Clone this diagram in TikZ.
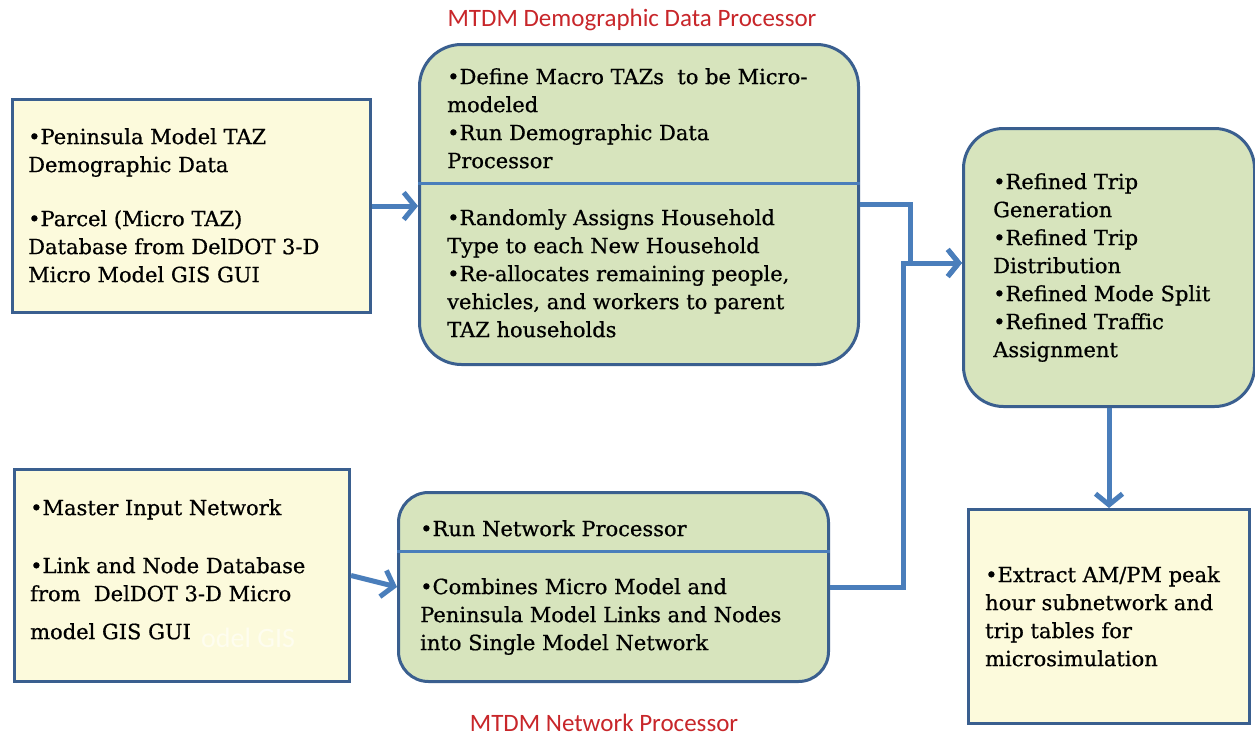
\documentclass[tikz,border=0pt]{standalone}
\usepackage{fontspec}
\setmainfont[FakeBold=0.7]{DejaVu Serif}
\newfontfamily\labfont{Carlito}
\usetikzlibrary{arrows.meta}
\definecolor{cream}{HTML}{FCFADC}
\definecolor{sage}{HTML}{D7E4BD}
\definecolor{edge}{HTML}{3A5F8F}
\definecolor{flow}{HTML}{4A7EBB}
\definecolor{labred}{HTML}{C8262A}
\begin{document}
\begin{tikzpicture}[x=1pt,y=-1pt,
  inbox/.style={draw=edge,line width=3pt,fill=cream,inner sep=0pt,anchor=north west},
  procbox/.style={draw=edge,line width=3pt,fill=sage,inner sep=0pt,anchor=north west},
  txt/.style={anchor=north west,align=left,inner sep=0pt,font=\fontsize{21}{28}\selectfont},
  flowline/.style={draw=flow,line width=5pt},
  arr/.style={flowline,-{Straight Barb[length=11pt,width=27pt]}},
  lab/.style={text=labred,font=\labfont\fontsize{25}{28}\selectfont}]
\useasboundingbox[fill=white] (0,0) rectangle (1255,736);

% boxes
\node[inbox,minimum width=358pt,minimum height=213pt] (A) at (11,98) {};
\node[procbox,rounded corners=42pt,minimum width=439pt,minimum height=320pt] (B) at (418,43) {};
\node[procbox,rounded corners=40pt,minimum width=291pt,minimum height=278pt] (C) at (962,127) {};
\node[inbox,minimum width=281pt,minimum height=214pt] (D) at (967,508) {};
\node[inbox,minimum width=335pt,minimum height=212pt] (E) at (13,468) {};
\node[procbox,rounded corners=30pt,minimum width=430pt,minimum height=189pt] (F) at (397,491) {};

% dividers
\draw[draw=flow,line width=3pt] (B.west |- 0,183) -- (B.east |- 0,183);
\draw[draw=flow,line width=3pt] (F.west |- 0,551) -- (F.east |- 0,551);

% texts
\node[txt] (tA) at (28,128) {•Peninsula Model TAZ\\Demographic Data\\[26pt]•Parcel (Micro TAZ)\\Database from DelDOT 3-D\\Micro Model GIS GUI};
\node[txt] (tB1) at (447,68) {•Define Macro TAZs\ \ to be Micro-\\modeled\\•Run Demographic Data\\Processor};
\node[txt] (tB2) at (447,209) {•Randomly Assigns Household\\Type to each New Household\\•Re-allocates remaining people,\\vehicles, and workers to parent\\TAZ households};
\node[txt] (tC) at (993,173) {•Refined Trip\\Generation\\•Refined Trip\\Distribution\\•Refined Mode Split\\•Refined Traffic\\Assignment};
\node[txt] (tD) at (985,566) {•Extract AM/PM peak\\hour subnetwork and\\trip tables for\\microsimulation};
\node[txt] (tE) at (30,499) {•Master Input Network\\[30pt]•Link and Node Database\\from\ \ DelDOT 3-D Micro\\[10pt]model GIS GUI};
\node[anchor=west,inner sep=0pt,text=white!55!cream,font=\labfont\fontsize{28}{30}\selectfont] (ghost) at (201,638) {odel GIS};
\node[txt] (tF1) at (420,520) {•Run Network Processor};
\node[txt] (tF2) at (420,578) {•Combines Micro Model and\\Peninsula Model Links and Nodes\\into Single Model Network};

% labels
\node[lab] (labB) at (632,20) {MTDM Demographic Data Processor};
\node[lab] (labF) at (604,723) {MTDM Network Processor};

% connectors
\coordinate (j1) at (910,263);
\coordinate (j2) at (903,263);
\draw[arr] (A.east) -- (A.east -| B.west);
\draw[flowline] (B.east) -| (j1);
\draw[arr] (F.east) -| (j2) -- (j2 -| C.west);
\draw[arr] (j1) -- (j1 -| C.west);
\draw[arr] (C.south) -- (D.north);
\draw[arr] (E.east) -- (F.west);
\end{tikzpicture}
\end{document}
